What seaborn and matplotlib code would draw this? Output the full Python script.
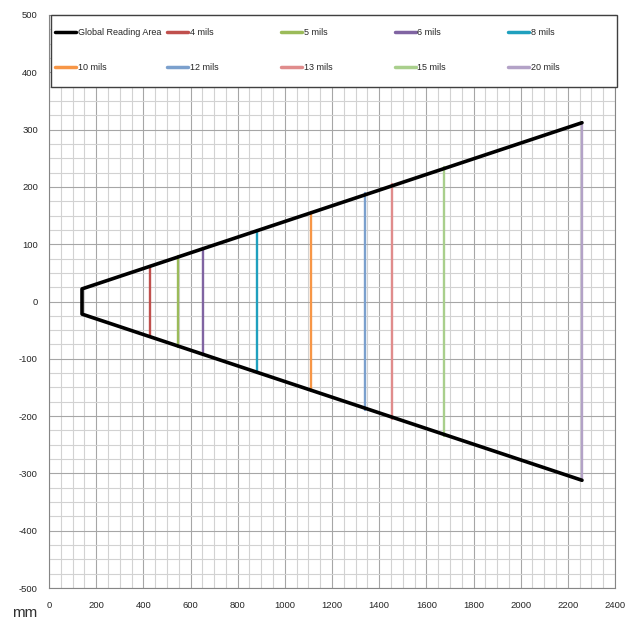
import numpy as np
import pandas as pd
import seaborn as sns
import matplotlib.pyplot as plt
from matplotlib.lines import Line2D
from matplotlib.patches import Rectangle

sns.set_style('white')
plt.rcParams['font.family'] = ['Liberation Sans', 'DejaVu Sans']
plt.rcParams['axes.unicode_minus'] = False

# ---------------- data ----------------
labels = ['4 mils', '5 mils', '6 mils', '8 mils', '10 mils',
          '12 mils', '13 mils', '15 mils', '20 mils']
colors = ['#C0504D', '#9BBB59', '#8064A2', '#1FA0BE', '#F79646',
          '#7BA0CD', '#E08C8C', '#A9CF8C', '#B3A2C7']
mils_x = [430, 545, 655, 880, 1110, 1340, 1455, 1675, 2260]
mils_half = [62, 79, 94, 125, 157, 189, 205, 235, 312]

area_x = [2260, 140, 140, 2260]
area_y = [312, 22, -22, -312]

xticks = list(range(0, 2401, 200))
yticks = list(range(-500, 501, 100))

# vertical reading lines, one per resolution
mils_df = pd.DataFrame({
    'x': np.repeat(mils_x, 2),
    'y': [v for h in mils_half for v in (-h, h)],
    'series': np.repeat(labels, 2),
})
area_df = pd.DataFrame({'x': area_x, 'y': area_y})

fig = plt.figure(figsize=(6.32, 6.25), dpi=100)
ax = fig.add_axes([49/632, 37/625, 566/632, 573/625])

sns.lineplot(data=mils_df, x='x', y='y', hue='series', palette=dict(zip(labels, colors)),
             estimator=None, sort=False, lw=1.7, legend=False, ax=ax)
sns.lineplot(data=area_df, x='x', y='y', color='black', lw=2.6,
             estimator=None, sort=False, ax=ax)

ax.set_xlim(0, 2400)
ax.set_ylim(-500, 500)
ax.set_xticks(xticks)
ax.set_yticks(yticks)
ax.set_xticks(range(0, 2401, 50), minor=True)
ax.set_yticks(range(-500, 501, 25), minor=True)
ax.grid(which='major', color='#a6a6a6', lw=0.8)
ax.grid(which='minor', color='#d2d2d2', lw=0.8)
ax.set_axisbelow(True)
ax.tick_params(axis='x', which='both', length=0, pad=9, labelsize=6.8)
ax.tick_params(axis='y', which='major', length=4, width=0.8, color='#868686', pad=4, labelsize=6.8)
ax.tick_params(axis='y', which='minor', length=0)
ax.set_xlabel('')
ax.set_ylabel('')
for s in ax.spines.values():
    s.set_color('#868686')
    s.set_linewidth(0.8)

# legend box across the top
ax.add_patch(Rectangle((0.0035, 0.874), 1.0, 0.126, transform=ax.transAxes,
                       facecolor='white', edgecolor='#404040', lw=1, zorder=3, clip_on=False))

handles = [Line2D([], [], color=c, lw=2.5) for c in colors]
gra = Line2D([], [], color='black', lw=2.5)

leg_kw = dict(frameon=False, fontsize=6.5, handlelength=2.33, handletextpad=0.2,
              labelspacing=2.9, borderpad=0, borderaxespad=0, loc='upper left',
              bbox_transform=fig.transFigure)
leg1 = ax.legend([gra, handles[4]], ['Global Reading Area', labels[4]],
                 bbox_to_anchor=(55/632, 1 - 28/625), **leg_kw)
leg1.set_zorder(5)
ax.add_artist(leg1)

order = [0, 5, 1, 6, 2, 7, 3, 8]
leg2 = ax.legend([handles[i] for i in order], [labels[i] for i in order], ncol=4,
                 columnspacing=6.9, bbox_to_anchor=(167/632, 1 - 28/625), **leg_kw)
leg2.set_zorder(5)

fig.text(12/632, 1 - 613/625, 'mm', fontsize=11, va='center', ha='left',
         color='#303030')

plt.savefig('out.png', dpi=100)
